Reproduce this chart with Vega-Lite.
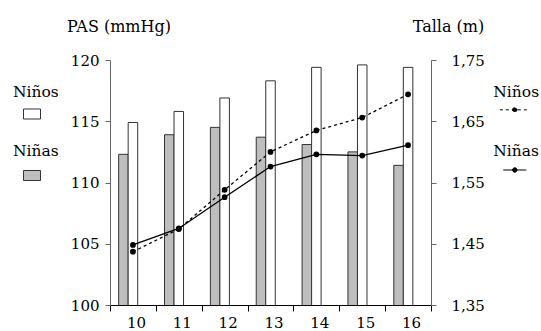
{
  "$schema": "https://vega.github.io/schema/vega-lite/v6.json",
  "width": 321,
  "height": 245,
  "autosize": {"type": "none"},
  "padding": {"left": 110, "top": 60, "right": 110, "bottom": 26},
  "background": "white",
  "config": {
    "font": "DejaVu Serif",
    "view": {"stroke": null},
    "axis": {"grid": false, "labelFont": "DejaVu Serif", "titleFont": "DejaVu Serif", "labelFontSize": 15, "labelColor": "black", "titleFontSize": 16, "titleFontWeight": "normal", "titleColor": "black"},
    "legend": {"padding": 0, "labelFont": "DejaVu Serif", "titleFont": "DejaVu Serif", "titleFontSize": 15.5, "titleFontWeight": "normal", "titleColor": "black", "labelFontSize": 1}
  },
  "data": {
    "values": [
      {"edad": 10, "sexo": "Niñas", "pas": 112.3, "talla": 1.448},
      {"edad": 10, "sexo": "Niños", "pas": 114.9, "talla": 1.437},
      {"edad": 11, "sexo": "Niñas", "pas": 113.9, "talla": 1.475},
      {"edad": 11, "sexo": "Niños", "pas": 115.8, "talla": 1.474},
      {"edad": 12, "sexo": "Niñas", "pas": 114.5, "talla": 1.526},
      {"edad": 12, "sexo": "Niños", "pas": 116.9, "talla": 1.538},
      {"edad": 13, "sexo": "Niñas", "pas": 113.7, "talla": 1.576},
      {"edad": 13, "sexo": "Niños", "pas": 118.3, "talla": 1.600},
      {"edad": 14, "sexo": "Niñas", "pas": 113.1, "talla": 1.596},
      {"edad": 14, "sexo": "Niños", "pas": 119.4, "talla": 1.635},
      {"edad": 15, "sexo": "Niñas", "pas": 112.5, "talla": 1.594},
      {"edad": 15, "sexo": "Niños", "pas": 119.6, "talla": 1.656},
      {"edad": 16, "sexo": "Niñas", "pas": 111.4, "talla": 1.611},
      {"edad": 16, "sexo": "Niños", "pas": 119.4, "talla": 1.694}
    ]
  },
  "encoding": {
    "x": {
      "field": "edad", "type": "ordinal",
      "scale": {"paddingInner": 0, "paddingOuter": 0},
      "axis": {"title": null, "labelAngle": 0, "tickBand": "extent", "labelPadding": 4, "tickSize": 6, "domainColor": "black", "tickColor": "black", "labelOffset": 3, "labelBaseline": "top"}
    }
  },
  "layer": [
    {
      "encoding": {
        "y": {
          "field": "pas", "type": "quantitative",
          "scale": {"domain": [100, 120], "zero": false, "nice": false},
          "axis": {"orient": "left", "values": [100, 105, 110, 115, 120], "title": "PAS (mmHg)", "titleAngle": 0, "titleX": 8.5, "titleY": -29, "titleAlign": "center", "titleBaseline": "alphabetic", "domainColor": "#666", "tickColor": "#666", "tickSize": 5, "labelPadding": 6}
        },
        "xOffset": {"field": "sexo", "type": "nominal", "scale": {"domain": ["Niñas", "Niños", "z"], "paddingInner": 0, "paddingOuter": 0.91}}
      },
      "layer": [
        {
          "transform": [{"filter": "datum.sexo === 'Niñas'"}],
          "mark": {"type": "bar", "stroke": "#333", "strokeWidth": 1, "clip": true},
          "encoding": {
            "fill": {"field": "sexo", "type": "nominal", "scale": {"domain": ["Niñas"], "range": ["#bebebe"]},
              "legend": {"title": "Niñas", "orient": "none", "legendX": -97, "legendY": 84, "titlePadding": 7, "labelExpr": "''", "symbolType": "M-1,-0.59H1V0.59H-1Z", "symbolSize": 289, "symbolStrokeColor": "#333", "symbolStrokeWidth": 1, "symbolOffset": 10}}
          }
        },
        {
          "transform": [{"filter": "datum.sexo === 'Niños'"}],
          "mark": {"type": "bar", "stroke": "#333", "strokeWidth": 1, "clip": true},
          "encoding": {
            "fill": {"field": "sexo", "type": "nominal", "scale": {"domain": ["Niños"], "range": ["#ffffff"]},
              "legend": {"title": "Niños", "orient": "none", "legendX": -97, "legendY": 25, "titlePadding": 4.5, "labelExpr": "''", "symbolType": "M-1,-0.59H1V0.59H-1Z", "symbolSize": 289, "symbolStrokeColor": "#333", "symbolStrokeWidth": 1, "symbolOffset": 10}}
          }
        }
      ],
      "resolve": {"scale": {"fill": "independent"}}
    },
    {
      "encoding": {
        "y": {
          "field": "talla", "type": "quantitative",
          "scale": {"domain": [1.35, 1.75], "zero": false, "nice": false},
          "axis": {"orient": "right", "values": [1.35, 1.45, 1.55, 1.65, 1.75], "labelExpr": "replace(format(datum.value, '.2f'), '.', ',')", "title": "Talla (m)", "titleAngle": 0, "titleX": 17, "titleY": -29, "titleAlign": "center", "titleBaseline": "alphabetic", "domainColor": "#666", "tickColor": "#666", "tickSize": 5, "labelPadding": 15}
        }
      },
      "layer": [
        {
          "transform": [{"filter": "datum.sexo === 'Niños'"}],
          "mark": {"type": "line", "strokeWidth": 1.3, "strokeDash": [3, 3], "point": {"filled": true, "size": 14, "color": "black"}},
          "encoding": {
            "stroke": {"field": "sexo", "type": "nominal", "scale": {"domain": ["Niños"], "range": ["black"]},
              "legend": {"title": "Niños", "orient": "none", "legendX": 383.3, "legendY": 25, "titlePadding": -6.2, "labelExpr": "''", "symbolType": "M-1,0H1M-0.15,0A0.15,0.15 0 1,1 0.15,0A0.15,0.15 0 1,1 -0.15,0Z", "symbolSize": 900, "symbolFillColor": "black", "symbolStrokeWidth": 1, "symbolDash": [3, 3], "symbolOffset": 6}}
          }
        },
        {
          "transform": [{"filter": "datum.sexo === 'Niñas'"}],
          "mark": {"type": "line", "strokeWidth": 1.3, "point": {"filled": true, "size": 14, "color": "black"}},
          "encoding": {
            "stroke": {"field": "sexo", "type": "nominal", "scale": {"domain": ["Niñas"], "range": ["black"]},
              "legend": {"title": "Niñas", "orient": "none", "legendX": 383.3, "legendY": 84, "titlePadding": -5, "labelExpr": "''", "symbolType": "M-0.77,0H0.77M-0.15,0A0.15,0.15 0 1,1 0.15,0A0.15,0.15 0 1,1 -0.15,0Z", "symbolSize": 900, "symbolFillColor": "black", "symbolStrokeWidth": 1, "symbolOffset": 6}}
          }
        }
      ],
      "resolve": {"scale": {"stroke": "independent"}}
    }
  ],
  "resolve": {"scale": {"y": "independent"}}
}
